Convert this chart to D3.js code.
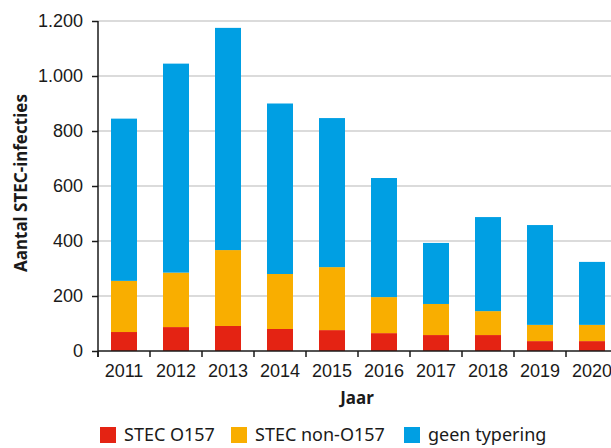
<!DOCTYPE html>
<html>
<head>
<meta charset="utf-8">
<script src="https://cdn.jsdelivr.net/npm/d3@7"></script>
<style>
  body { margin: 0; background: #fff; }
  svg { display: block; font-family: "Noto Sans", sans-serif; }
</style>
</head>
<body>
<script>
const years = ["2011", "2012", "2013", "2014", "2015", "2016", "2017", "2018", "2019", "2020"];
const o157 = [69, 87, 91, 80, 76, 65, 58, 58, 36, 36];
const nonO157 = [186, 198, 276, 200, 229, 131, 113, 87, 59, 59];
const geen = [590, 760, 808, 620, 542, 433, 222, 342, 363, 229];
const yTicks = [0, 200, 400, 600, 800, 1000, 1200];

const seriesKeys = ["o157", "non", "geen"];
const seriesNames = ["STEC O157", "STEC non-O157", "geen typering"];
const colors = ["#e42313", "#f9ae00", "#009fe3"];

const width = 611, height = 448;
const plotLeft = 98, plotBottom = 351, plotTop = 21;

const rows = years.map((y, i) => ({ year: y, o157: o157[i], non: nonO157[i], geen: geen[i] }));
const stacked = d3.stack().keys(seriesKeys)(rows);

const svg = d3.select("body").append("svg")
    .attr("width", width)
    .attr("height", height);

const x = d3.scaleBand()
    .domain(years)
    .range([plotLeft, plotLeft + 520])
    .paddingInner(0.5)
    .paddingOuter(0.25);

const y = d3.scaleLinear()
    .domain([0, 1200])
    .range([plotBottom, plotTop]);

// grid
svg.append("g")
    .selectAll("line")
    .data(yTicks.slice(1))
    .join("line")
    .attr("x1", plotLeft)
    .attr("x2", width)
    .attr("y1", d => y(d))
    .attr("y2", d => y(d))
    .attr("stroke", "#cfcfcf")
    .attr("stroke-width", 1.5);

// bars
svg.append("g")
    .selectAll("g")
    .data(stacked)
    .join("g")
    .attr("fill", (d, i) => colors[i])
    .selectAll("rect")
    .data(d => d)
    .join("rect")
    .attr("x", d => x(d.data.year))
    .attr("width", x.bandwidth())
    .attr("y", d => y(d[1]))
    .attr("height", d => y(d[0]) - y(d[1]));

// y axis
const yAxis = svg.append("g")
    .attr("transform", `translate(${plotLeft},0)`)
    .call(d3.axisLeft(y).tickValues(yTicks).tickSize(6).tickPadding(9)
        .tickFormat(d => d3.format(",")(d).replace(",", ".")));
yAxis.select(".domain").attr("d", `M0,${plotTop}V${plotBottom + 6}`).attr("stroke", "#1a1a1a").attr("stroke-width", 1.5);
yAxis.selectAll(".tick line").attr("stroke", "#1a1a1a").attr("stroke-width", 1.5);
yAxis.selectAll("text").attr("font-size", 18).attr("fill", "#1a1a1a");

// x axis
const xAxis = svg.append("g")
    .attr("transform", `translate(0,${plotBottom})`)
    .call(d3.axisBottom(x).tickSize(0).tickPadding(13));
xAxis.select(".domain").attr("d", `M${plotLeft},0H${width}`).attr("stroke", "#1a1a1a").attr("stroke-width", 1.5);
xAxis.selectAll("text").attr("font-size", 18).attr("fill", "#1a1a1a");
const gap = (x.step() - x.bandwidth()) / 2;
xAxis.selectAll(".bound")
    .data(years)
    .join("line")
    .attr("class", "bound")
    .attr("x1", d => x(d) - gap)
    .attr("x2", d => x(d) - gap)
    .attr("y1", 0)
    .attr("y2", 6)
    .attr("stroke", "#1a1a1a")
    .attr("stroke-width", 1.5);

// axis titles
svg.append("text")
    .attr("x", 357)
    .attr("y", 404)
    .attr("text-anchor", "middle")
    .attr("font-size", 17)
    .attr("font-weight", "bold")
    .attr("fill", "#1a1a1a")
    .text("Jaar");

svg.append("text")
    .attr("transform", "translate(27,183) rotate(-90)")
    .attr("text-anchor", "middle")
    .attr("font-size", 17)
    .attr("font-weight", "bold")
    .attr("fill", "#1a1a1a")
    .text("Aantal STEC-infecties");

// legend
const legendX = [100, 231, 404];
const legend = svg.append("g")
    .selectAll("g")
    .data(seriesNames)
    .join("g")
    .attr("transform", (d, i) => `translate(${legendX[i]},427)`);
legend.append("rect")
    .attr("width", 16)
    .attr("height", 16)
    .attr("fill", (d, i) => colors[i]);
legend.append("text")
    .attr("x", 24)
    .attr("y", 14)
    .attr("font-size", 18)
    .attr("fill", "#1a1a1a")
    .text(d => d);
</script>
</body>
</html>
